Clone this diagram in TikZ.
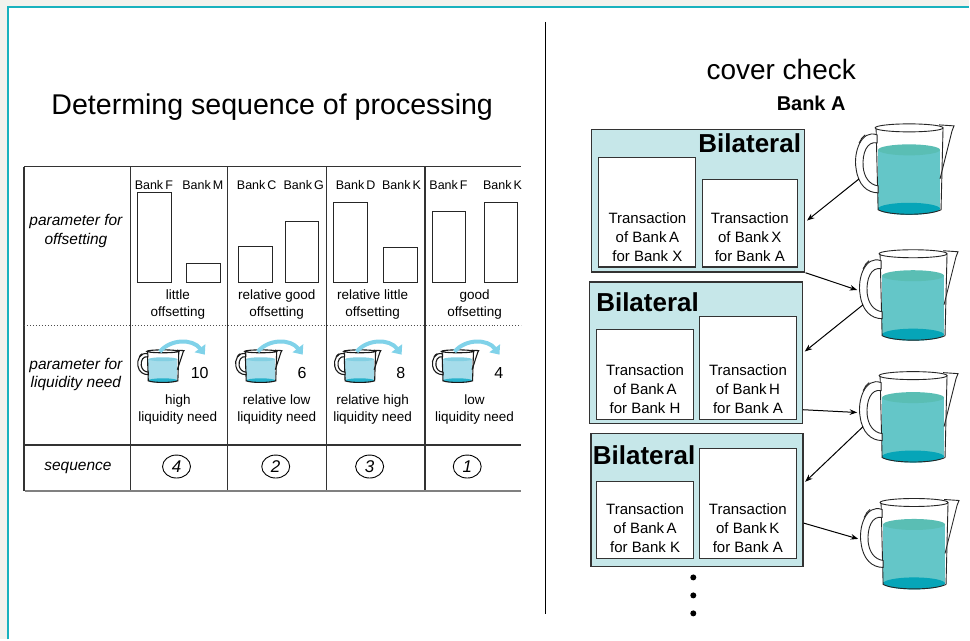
\documentclass[tikz,border=0pt]{standalone}
\usepackage{fontspec}
\setmainfont{Liberation Sans}
\usetikzlibrary{arrows.meta,shapes.geometric}
\definecolor{frame}{RGB}{24,178,190}
\definecolor{paper}{RGB}{242,242,237}
\definecolor{bilfill}{RGB}{198,231,233}
\definecolor{jugwater}{RGB}{100,198,200}
\definecolor{juglid}{RGB}{90,190,180}
\definecolor{jugbed}{RGB}{6,165,184}
\definecolor{cupwater}{RGB}{165,220,234}
\definecolor{cuplid}{RGB}{130,207,226}
\definecolor{cupbed}{RGB}{40,178,204}
\definecolor{pourc}{RGB}{128,210,233}

\begin{document}
\begin{tikzpicture}[x=1pt,y=-1pt,>=Stealth,
 tl/.style={draw=black!80,line width=1.3pt},
 bar/.style={draw=black!85,line width=.9pt,minimum width=33.5pt,inner sep=0pt,anchor=south},
 bk/.style={font=\fontsize{12.5}{14}\selectfont,inner sep=1pt},
 ds/.style={font=\fontsize{13.5}{16.5}\selectfont,align=center,inner sep=1pt},
 rl/.style={font=\itshape\fontsize{15.5}{18.5}\selectfont,align=center,inner sep=1pt},
 sq/.style={draw,ellipse,minimum width=28pt,minimum height=23pt,inner sep=0pt,line width=.9pt,font=\itshape\fontsize{17}{17}\selectfont},
 num/.style={font=\fontsize{16}{16}\selectfont,inner sep=1pt,anchor=east},
 bil/.style={draw=black!80,line width=1.3pt,fill=bilfill,anchor=north west,inner sep=0pt},
 tr/.style={draw=black!80,line width=1.1pt,fill=white,anchor=north west,inner sep=0pt},
 tx/.style={font=\fontsize{15}{19}\selectfont,align=center,anchor=south,yshift=4pt,inner sep=2pt},
 bl/.style={font=\bfseries\fontsize{26}{26}\selectfont,inner sep=1pt},
 a/.style={->,line width=1pt,shorten >=2pt},
 pour/.style={line width=4pt,draw=pourc,-{Triangle[length=8pt,width=13pt]}},
 water/.style={fill=jugwater},waterlid/.style={fill=juglid},waterbed/.style={fill=jugbed},
 jugline/.style={draw=black!85,line width=.9pt},
 jug/.pic={
  % water inside the glass
  \fill[water] (-31,-65) rectangle (31,-6);
  \fill[waterbed] (0,-6) ellipse [x radius=31,y radius=6];
  \fill[waterlid] (0,-65) ellipse [x radius=31,y radius=5.5];
  % glass, rim and spout
  \draw[jugline] (-33,-87) -- (-31,-5) .. controls (-20,1) and (20,1) .. (32,-5) -- (34,-87);
  \draw[jugline,fill=white] (0,-87) ellipse [x radius=34,y radius=4];
  \draw[jugline] (30,-90) -- (45,-89) -- (43,-84) -- (31,-36);
  % handle
  \draw[jugline,fill=white] (-32,-80) .. controls (-48,-86) and (-56,-62) .. (-53,-46)
   .. controls (-51,-30) and (-42,-22) .. (-31,-22) -- (-31,-29)
   .. controls (-40,-30) and (-45,-38) .. (-46,-48)
   .. controls (-47,-62) and (-42,-74) .. (-32,-72) -- cycle;
  \draw[jugline] (-44,-80) -- (-48,-76) (-47,-77) -- (-50,-72);
  \coordinate (-in) at (-54,-50);
  \coordinate (-out) at (-50,-36);
 }]
 % page and frame
 \fill[paper] (0,0) rectangle (970,640);
 \fill[white] (8,7) rectangle (970,640);
 \draw[frame,line width=2pt] (8,640) -- (8,7) -- (970,7);
 \draw[line width=.8pt] (546,22) -- (546,615);

 % ---- left half: ordering table
 \node[font=\fontsize{28.6}{32}\selectfont] (title) at (272.5,107) {Determing sequence of processing};
 \draw[tl] (24,167) -- (522,167);
 \draw[tl] (24,167) -- (24,491);
 \foreach \cx in {130.5,228,326.5,425.5} \draw[tl] (\cx,167) -- (\cx,491);
 \draw[black!70,line width=1pt,dotted] (24,325.5) -- (522,325.5);
 \draw[tl] (24,445.5) -- (522,445.5);
 \draw[black!50,line width=2pt] (25,491) -- (522,491);

 \node[rl] (r1) at (76,231) {parameter for\\offsetting};
 \node[rl] (r2) at (76,375) {parameter for\\liquidity need};
 \node[rl] (r3) at (78,468) {sequence};

 \node[bar,minimum height=90] (f1) at (154.5,283.3) {};
 \node[bar,minimum height=19.3] (m1) at (203.5,283.3) {};
 \node[bar,minimum height=36] (c2) at (255.9,283.3) {};
 \node[bar,minimum height=61] (g2) at (302,283.3) {};
 \node[bar,minimum height=80] (d3) at (350.8,283.3) {};
 \node[bar,minimum height=35] (k3) at (400.7,283.3) {};
 \node[bar,minimum height=71] (f4) at (449.2,283.3) {};
 \node[bar,minimum height=80] (k4) at (501.3,283.3) {};
 \node[bk] (lf1) at (154,185) {Bank\,F};
 \node[bk] (lm1) at (203,185) {Bank\,M};
 \node[bk] (lc2) at (257,185) {Bank\,C};
 \node[bk] (lg2) at (304,185) {Bank\,G};
 \node[bk] (ld3) at (356,185) {Bank\,D};
 \node[bk] (lk3) at (402,185) {Bank\,K};
 \node[bk] (lf4) at (449,185) {Bank\,F};
 \node[bk] (lk4) at (503,185) {Bank\,K};
 \node[ds] (o1) at (178,305) {little\\offsetting};
 \node[ds] (o2) at (277,305) {relative good\\offsetting};
 \node[ds] (o3) at (373,305) {relative little\\offsetting};
 \node[ds] (o4) at (475,305) {good\\offsetting};

 \foreach \cx/\num [count=\i] in {179/10,277/6,376/8,474/4}{
  \pic[xscale=.47,yscale=.36,water/.style={fill=cupwater},waterlid/.style={fill=cuplid},
   waterbed/.style={fill=cupbed},jugline/.style={draw=black!90,line width=1.1pt}] (c\i) at (\cx-16,383) {jug};
  \draw[pour,shift={(\cx-16,383)}] (-3,-31) .. controls (8,-44) and (30,-44) .. (42,-28);
  \node[num] (n\i) at (\cx+31,373) {\num};
 }
 \node[ds] (q1) at (178,410) {high\\liquidity need};
 \node[ds] (q2) at (277,410) {relative low\\liquidity need};
 \node[ds] (q3) at (373,410) {relative high\\liquidity need};
 \node[ds] (q4) at (475,410) {low\\liquidity need};

 \node[sq] (s4) at (176.7,467) {4};
 \node[sq] (s2) at (276,467) {2};
 \node[sq] (s3) at (370,467) {3};
 \node[sq] (s1) at (467.7,467) {1};

 % ---- right half: cover check
 \node[font=\fontsize{28}{32}\selectfont] (cover) at (782,70) {cover check};
 \node[font=\bfseries\fontsize{20}{24}\selectfont] (bank) at (812,103) {Bank A};

 \node[bil,minimum width=213.3,minimum height=142.7] (b1) at (591.7,129) {};
 \node[bil,minimum width=213.4,minimum height=141.6] (b2) at (589.3,281.7) {};
 \node[bil,minimum width=212.3,minimum height=133.4] (b3) at (591,433.3) {};
 \node[bl,anchor=north east,xshift=-3.3pt,yshift=-3.7pt] (bl1) at (b1.north east) {Bilateral};
 \node[bl,anchor=north west,xshift=6.4pt,yshift=-9.7pt] (bl2) at (b2.north west) {Bilateral};
 \node[bl,anchor=north west,xshift=1.3pt,yshift=-11.4pt] (bl3) at (b3.north west) {Bilateral};

 \node[tr,minimum width=97,minimum height=110] (t1a) at (599,156.7) {};
 \node[tr,minimum width=95.4,minimum height=87.4] (t1b) at (702.3,179.3) {};
 \node[tr,minimum width=97,minimum height=90.3] (t2a) at (596.7,329) {};
 \node[tr,minimum width=97,minimum height=102.6] (t2b) at (699.7,316.7) {};
 \node[tr,minimum width=97,minimum height=76.6] (t3a) at (596.7,481.7) {};
 \node[tr,minimum width=97.4,minimum height=110] (t3b) at (699.3,448.3) {};
 \node[tx] (x1a) at (t1a.south) {Transaction\\of Bank\,A\\for Bank X};
 \node[tx] (x1b) at (t1b.south) {Transaction\\of Bank\,X\\for Bank A};
 \node[tx] (x2a) at (t2a.south) {Transaction\\of Bank\,A\\for Bank H};
 \node[tx] (x2b) at (t2b.south) {Transaction\\of Bank\,H\\for Bank A};
 \node[tx] (x3a) at (t3a.south) {Transaction\\of Bank\,A\\for Bank K};
 \node[tx] (x3b) at (t3b.south) {Transaction\\of Bank\,K\\for Bank A};
 \foreach \dy [count=\i] in {578,596,614} \fill (694,\dy) circle [radius=3] coordinate (dot\i);

 \pic (p1) at (910,215) {jug};
 \pic (p2) at (914,341) {jug};
 \pic (p3) at (914,463) {jug};
 \pic (p4) at (915,590) {jug};

 \draw[a] (p1-out) -- ([yshift=-21pt]b1.east);
 \draw[a] (b1.south east) -- (p2-in);
 \draw[a] (p2-out) -- (b2.east);
 \draw[a] ([yshift=-57pt]b2.east) -- (p3-in);
 \draw[a] (p3-out) -- ([yshift=17pt]b3.east);
 \draw[a] ([yshift=-23pt]b3.east) -- (p4-in);
\end{tikzpicture}
\end{document}
